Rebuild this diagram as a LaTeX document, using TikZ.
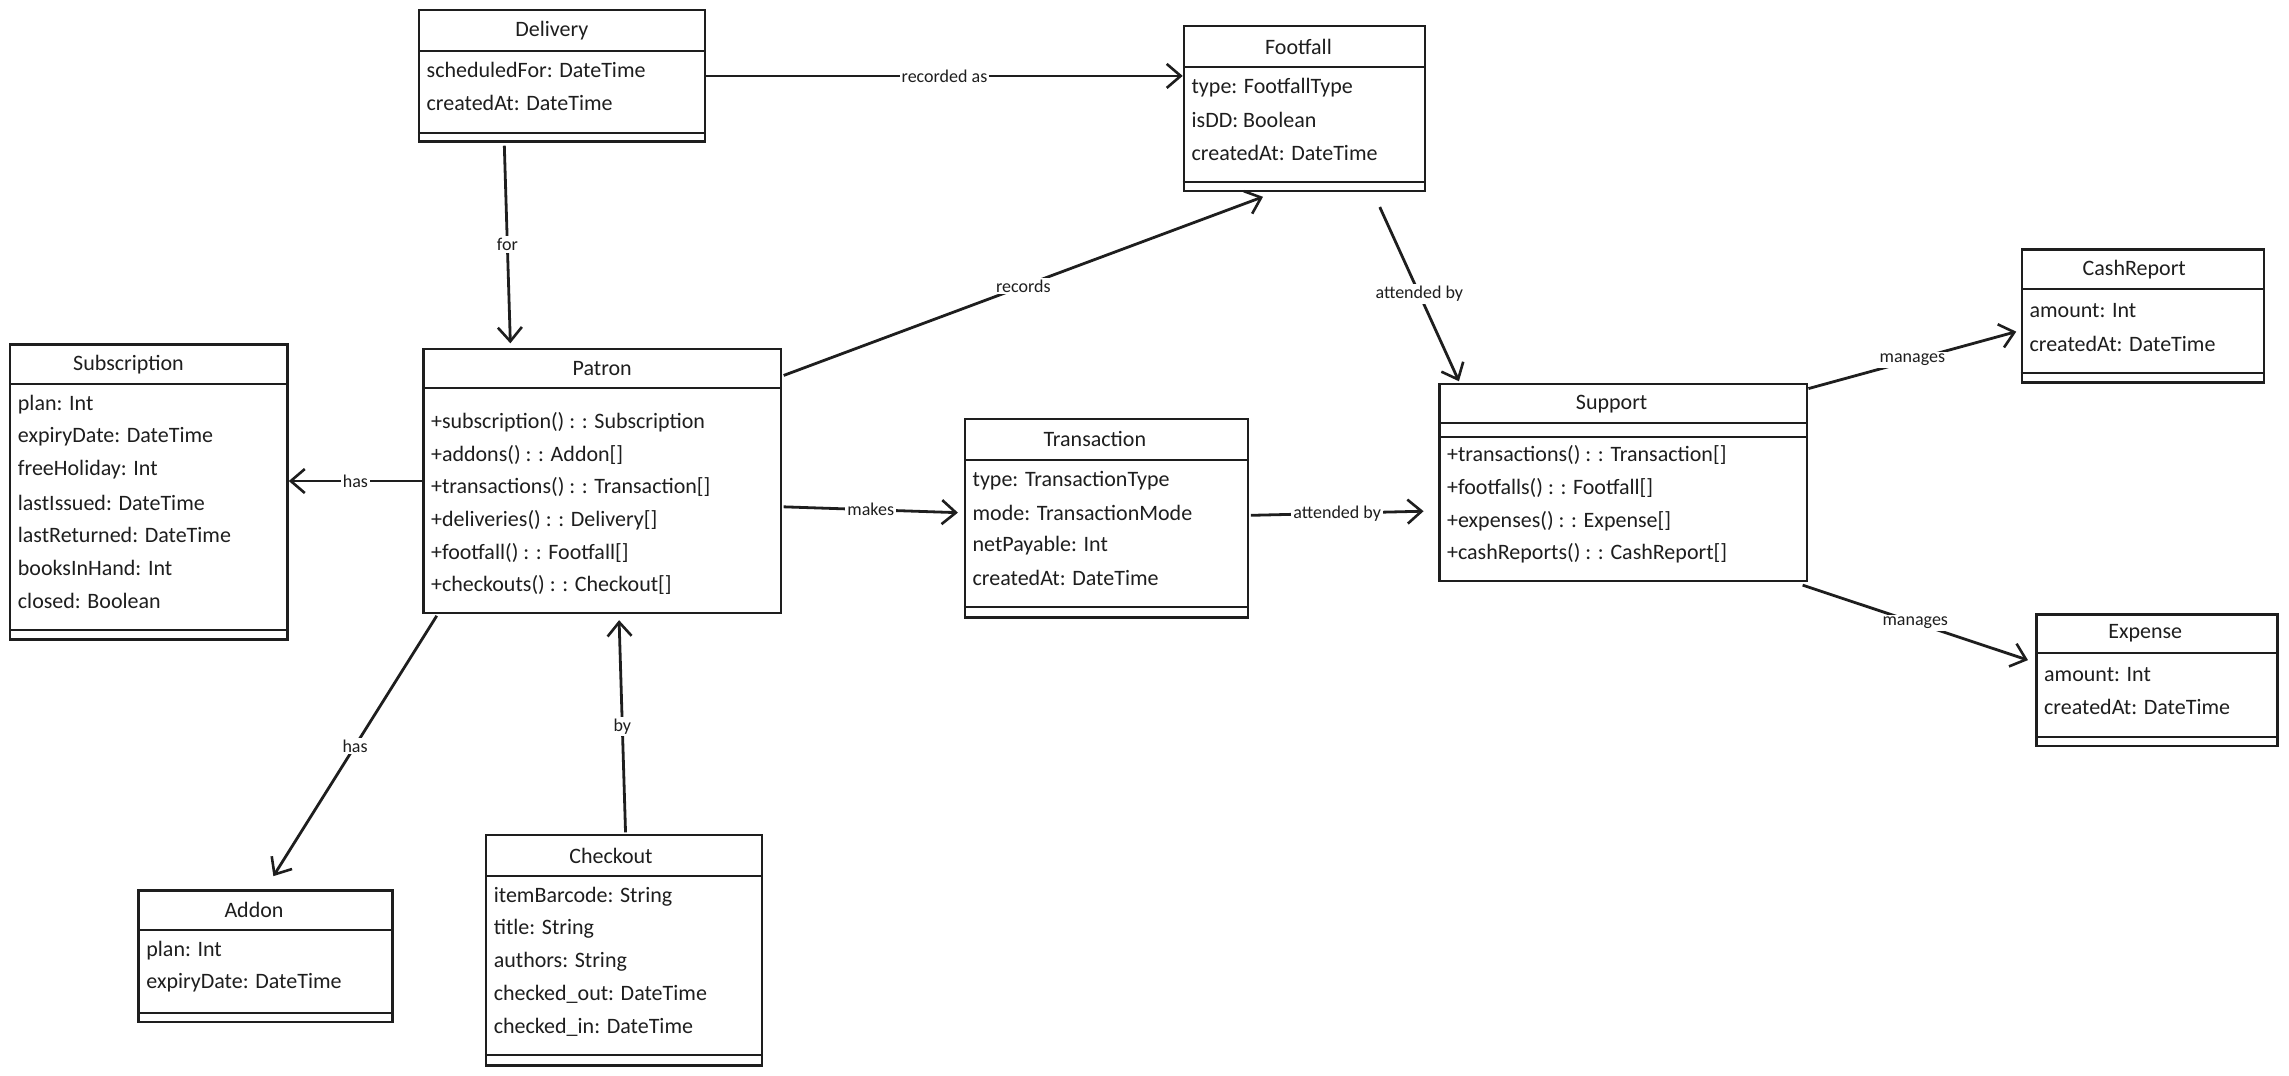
\documentclass[tikz,border=0pt]{standalone}
\usepackage{fontspec}
\setmainfont{Carlito}
\usetikzlibrary{arrows.meta,calc}
\definecolor{ink}{RGB}{30,30,30}
\tikzset{
  classframe/.style={draw=ink, line width=1.2pt, fill=white, inner sep=0pt},
  classtitle/.style={font=\fontsize{11}{13}\selectfont, text=ink, inner sep=0pt},
  rowtext/.style={font=\fontsize{11}{13}\selectfont, text=ink, anchor=west, inner sep=0pt},
  divider/.style={draw=ink, line width=1pt},
  assoc/.style={draw=ink, line width=1.4pt, -{Straight Barb[length=7pt,width=12pt,line width=1.3pt]}},
  assoclabel/.style={font=\fontsize{9}{10}\selectfont, fill=white, inner sep=1pt, text=ink},
}
% name, left, top, right, bottom, title, header line, title shift
\newcommand{\classbox}[8]{
  \node[classframe, minimum width={(#4-#2)*0.73pt}, minimum height={(#5-#3)*0.73pt}] (#1) at ({(#2+#4)/2},{(#3+#5)/2}) {};
  \node[classtitle] (#1-name) at ({(#2+#4)/2+#8},{(#3+#7)/2}) {#6};
  \draw[divider] (#2,#7) -- (#4,#7);
}
\newcommand{\classrows}[4]{
  \foreach \row [count=\i] in {#4}{
    \node[rowtext] (#1-row\i) at (#2+5,{#3+(\i-1)*22.4}) {\row};
  }
}
\newcommand{\emptypart}[2]{\draw[divider] ($(#1.south west)+(0,-#2)$) -- ($(#1.south east)+(0,-#2)$);}

\begin{document}
\begin{tikzpicture}[x=0.73pt,y=-0.73pt]
\useasboundingbox (0,0) rectangle (1568,737);
\classbox{delivery}{287}{7}{483}{97}{Delivery}{35}{-7}
\classrows{delivery}{287}{48}{scheduledFor: DateTime, createdAt: DateTime}
\emptypart{delivery}{7}
\classbox{footfall}{811}{18}{976}{131}{Footfall}{46}{-4}
\classrows{footfall}{811}{60}{type: FootfallType, isDD: Boolean, createdAt: DateTime}
\emptypart{footfall}{7}
\classbox{subscription}{7}{236}{197}{438}{Subscription}{263}{-14}
\classrows{subscription}{7}{277}{plan: Int, expiryDate: DateTime, freeHoliday: Int, lastIssued: DateTime, lastReturned: DateTime, booksInHand: Int, closed: Boolean}
\emptypart{subscription}{7}
\classbox{patron}{290}{239}{535}{420}{Patron}{266}{0}
\classrows{patron}{290}{289}{+subscription() : : Subscription, +addons() : : Addon[], +transactions() : : Transaction[], +deliveries() : : Delivery[], +footfall() : : Footfall[], +checkouts() : : Checkout[]}
\classbox{transaction}{661}{287}{855}{423}{Transaction}{315}{-8}
\classrows{transaction}{661}{329}{type: TransactionType, mode: TransactionMode, netPayable: Int, createdAt: DateTime}
\emptypart{transaction}{8}
\classbox{support}{986}{263}{1238}{398}{Support}{290}{-8}
\draw[divider] ($(support.north west)+(0,37)$) -- ($(support.north east)+(0,37)$);
\classrows{support}{986}{312}{+transactions() : : Transaction[], +footfalls() : : Footfall[], +expenses() : : Expense[], +cashReports() : : CashReport[]}
\classbox{cashreport}{1385}{171}{1551}{262}{CashReport}{198}{-6}
\classrows{cashreport}{1385}{213}{amount: Int, createdAt: DateTime}
\emptypart{cashreport}{7}
\classbox{expense}{1395}{421}{1560}{511}{Expense}{447}{-8}
\classrows{expense}{1395}{462}{amount: Int, createdAt: DateTime}
\emptypart{expense}{7}
\classbox{addon}{95}{610}{269}{700}{Addon}{637}{-8}
\classrows{addon}{95}{651}{plan: Int, expiryDate: DateTime}
\emptypart{addon}{7}
\classbox{checkout}{333}{572}{522}{730}{Checkout}{600}{-9}
\classrows{checkout}{333}{614}{itemBarcode: String, title: String, authors: String, checked\_out: DateTime, checked\_in: DateTime}
\emptypart{checkout}{8}
% associations
\draw[assoc] (delivery.east) -- (delivery.east -| footfall.west) node[assoclabel, midway] (lbl-recorded) {recorded as};
\draw[assoc] ($(delivery.south west)!0.3!(delivery.south east)+(0,2)$) -- ($(patron.north west)!0.245!(patron.north east)+(0,-3)$) node[assoclabel, midway] (lbl-for) {for};
\draw[assoc] ($(patron.north east)+(1,19)$) -- ($(footfall.south west)!0.33!(footfall.south east)+(0,3)$) node[assoclabel, midway] (lbl-records) {records};
\draw[assoc] ($(footfall.south west)!0.81!(footfall.south east)+(0,10)$) -- ($(support.north west)!0.056!(support.north east)+(0,-1)$) node[assoclabel, midway] (lbl-attfoot) {attended by};
\draw[assoc] (patron.west) -- (patron.west -| subscription.east) node[assoclabel, midway] (lbl-hassub) {has};
\draw[assoc] ($(patron.north east)+(1,109)$) -- ($(transaction.north west)+(-4,65)$) node[assoclabel, midway] (lbl-makes) {makes};
\draw[assoc] ($(transaction.east)+(1,-2)$) -- ($(support.north west)+(-10,88)$) node[assoclabel, midway] (lbl-atttrans) {attended by};
\draw[assoc] ($(support.north east)+(0,4)$) -- ($(cashreport.north west)+(-3,57)$) node[assoclabel, midway] (lbl-mancash) {manages};
\draw[assoc] ($(support.south east)+(-4,2)$) -- ($(expense.north west)+(-5,32)$) node[assoclabel, midway] (lbl-manexp) {manages};
\draw[assoc] ($(patron.south west)+(10,1)$) -- ($(addon.north west)!0.53!(addon.north east)+(0,-9)$) node[assoclabel, midway] (lbl-hasadd) {has};
\draw[assoc] ($(checkout.north)+(1,-1)$) -- ($(patron.south west)!0.547!(patron.south east)+(0,4)$) node[assoclabel, midway] (lbl-by) {by};
\end{tikzpicture}
\end{document}
